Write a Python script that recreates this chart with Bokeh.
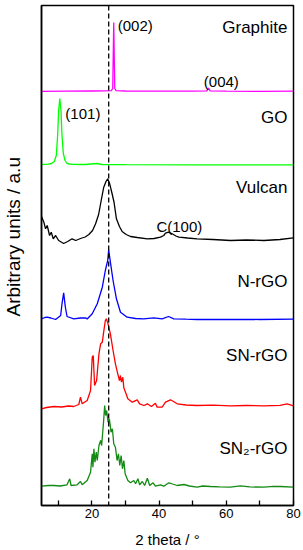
import math
from bokeh.plotting import figure
from bokeh.models import Range1d, FixedTicker, Span, Label, Title
from bokeh.embed import file_html
from bokeh.resources import INLINE

# ---------------- data (2 theta, stacked arbitrary intensity) ----------------
graphite_x = [5, 12, 20, 24, 25.8, 26.2, 26.5, 26.8, 27.2, 30, 40, 50, 54.2, 54.7, 55.2, 60, 70, 80]
graphite_y = [414.2, 414.4, 414.5, 414.6, 414.8, 417, 483, 417, 414.8, 414.5, 414.3, 414.4, 414.6, 417.5, 414.6, 414.3, 414.2, 414.3]

go_x = [5, 7.0, 8.0, 8.8, 9.4, 9.8, 10.1, 10.45, 10.8, 11.1, 11.5, 12.0, 12.6, 14, 18, 21.5, 23, 30, 50, 80]
go_y = [341, 341.3, 342, 344, 350, 370, 395, 407, 395, 370, 352, 345, 342, 341.2, 341, 342, 341, 340.8, 340.7, 340.7]

vulcan_x = [5.0, 5.7, 6.2, 6.7, 7.4, 7.9, 8.5, 9.2, 10.1, 11.6, 12.8, 14.1, 15.2, 16.6, 18.0, 19.1, 20.2, 21.1, 22.0,
            22.6, 23.5, 24.2, 24.7, 25.3, 26.0, 26.6, 27.3, 28.2, 29.0, 30.2, 31.5, 33.5, 36.5, 38.5, 40.4, 41.4, 41.9,
            42.8, 43.9, 45.0, 45.9, 48.5, 51.3, 56, 61.3, 66, 71.2, 76, 80]
vulcan_y = [289, 283.3, 276.7, 280, 270, 273.3, 266.7, 270, 265, 262, 264, 266.7, 265, 267, 268.5, 271, 275, 281.7, 291,
            302, 318, 324, 326.7, 321.7, 312, 303, 286.7, 279, 274, 271, 269, 268, 266.7, 267, 268.3, 270, 272.3,
            273.3, 271.7, 269.5, 268.3, 267.5, 266.7, 266, 265, 265.5, 265, 266, 267.7]

nrgo_x = [5.0, 6.0, 6.7, 7.8, 9.2, 10.7, 11.1, 11.6, 12.1, 12.6, 14.6, 16.5, 18.1, 18.6, 20.1, 21.6, 23.1, 24.0, 24.7, 25.0,
          25.5, 26.3, 27.3, 28.5, 30.5, 33, 35.4, 38.4, 40.9, 42.8, 44.4, 48, 51.3, 60, 70, 80]
nrgo_y = [186.7, 188, 188.3, 187.5, 186, 190, 201.7, 212.7, 198.3, 189, 186.7, 187.5, 187.7, 186.5, 191.7, 201.7, 218.3, 235, 245, 255.7,
          243.3, 225, 206.7, 193.3, 188.3, 187, 186.7, 187.7, 186.7, 189, 186.7, 186.3, 186, 186.2, 186, 186.3]

snrgo_x = [5.0, 6.5, 8.7, 11.0, 13.0, 14.6, 16.1, 16.6, 17.1, 18.6, 19.6, 20.1, 20.4, 20.8, 21.4, 22.1, 22.6, 23.1, 23.5,
           24.0, 24.3, 24.8, 25.5, 26.3, 27.0, 27.7, 28.2, 28.5, 28.8, 29.2, 29.5, 30.0, 30.7, 32.0, 33.5, 34.2, 35.5,
           36.5, 37.7, 38.9, 39.4, 40.9, 41.9, 43.4, 45.4, 48, 51.3, 56, 61.2, 66, 71.1, 76, 78.1, 80]
snrgo_y = [96.7, 98, 99, 98.5, 99.5, 99, 101, 108.3, 101.7, 105, 115, 148.3, 150, 120, 125, 151.7, 161.7, 163.3, 173.3,
           185, 186.7, 181.7, 171.7, 155, 141.7, 131.7, 125, 130, 123.3, 128.3, 117.7, 113.3, 106.7, 103.3, 105.7, 101.7, 100,
           101.7, 99, 102.3, 98.3, 98.3, 103.3, 105.7, 101.7, 100.5, 100, 100.3, 99.7, 100, 99.7, 100.2, 101.7, 99.7]

sn2rgo_x = [5.0, 7.0, 8.7, 10.5, 12.6, 13.4, 13.8, 15.6, 16.6, 17.1, 18.6, 19.6, 20.1, 20.3, 20.6, 20.9, 21.3, 21.6, 22.1,
            22.6, 22.9, 23.3, 23.5, 23.8, 24.1, 24.4, 24.8, 25.2, 25.7, 26.1, 26.5, 27.0, 27.5, 27.9, 28.3, 28.7, 29.1,
            29.5, 29.9, 30.7, 31.5, 32.5, 33.0, 33.7, 34.2, 35.0, 35.7, 36.5, 37.2, 38.2, 38.9, 40.4, 41.4, 42.9, 44.0,
            45.4, 47.4, 49, 51.3, 53, 55.3, 58, 61.2, 64.2, 67, 71.2, 74, 76.1, 80]
sn2rgo_y = [19.3, 20, 20, 19.5, 20.7, 26.7, 20, 20.7, 24, 20.7, 25, 33.3, 51.7, 38.3, 56.7, 43.3, 53.3, 45, 60,
            65, 60, 76.7, 85, 100, 90, 95, 83.3, 86.7, 73.3, 76.7, 61.7, 58.3, 45, 51.7, 40, 50, 36.7,
            45, 31.7, 25, 22.7, 25, 21.7, 26.7, 20.7, 24, 20, 27.3, 20, 22.7, 19.3, 20.7, 19.3, 22.7, 21.5,
            20, 21, 19.5, 18.3, 19.5, 19, 18.6, 18.3, 19.7, 18.6, 18.3, 19.2, 19, 18.3]

series = [
    (graphite_x, graphite_y, "#ff00ff"),
    (go_x, go_y, "#00ff00"),
    (vulcan_x, vulcan_y, "#000000"),
    (nrgo_x, nrgo_y, "#0000ff"),
    (snrgo_x, snrgo_y, "#ff0000"),
    (sn2rgo_x, sn2rgo_y, "#138a13"),
]

sample_names = ["Graphite", "GO", "Vulcan", "N-rGO", "SN-rGO", "SN\u2082-rGO"]
sample_name_y = [478, 388, 318, 224, 150, 57]

peak_labels = ["(002)", "(004)", "(101)", "C(100)"]
peak_label_x = [27.7, 53.3, 12.1, 39.2]
peak_label_y = [480, 424, 392, 279]

x_ticks = [20, 40, 60, 80]
x_minor_ticks = [10, 30, 50, 70]
ref_line_x = 25

FONT = "Liberation Sans"

p = figure(width=303, height=550, x_range=Range1d(5, 80), y_range=Range1d(0, 500),
           output_backend="svg", toolbar_location=None,
           min_border_left=41, min_border_right=10, min_border_top=5, min_border_bottom=45)
p.grid.visible = False
p.background_fill_color = "white"
p.border_fill_color = "white"
p.outline_line_color = "black"
p.outline_line_width = 1.5

xa = p.xaxis[0]
xa.ticker = FixedTicker(ticks=x_ticks, minor_ticks=x_minor_ticks)
xa.major_tick_in = 5
xa.major_tick_out = 0
xa.minor_tick_in = 5
xa.minor_tick_out = 0
xa.axis_line_width = 1.5
xa.major_tick_line_width = 1.3
xa.minor_tick_line_width = 1.3
xa.major_label_text_font = FONT
xa.major_label_text_font_size = "13px"
xa.major_label_text_color = "black"
xa.major_label_standoff = 3
xa.axis_label = "2 theta / \u00b0"
xa.axis_label_text_font = FONT
xa.axis_label_text_font_size = "15px"
xa.axis_label_text_font_style = "normal"
xa.axis_label_text_color = "black"
xa.axis_label_standoff = 10

ya = p.yaxis[0]
ya.ticker = FixedTicker(ticks=[])
ya.major_tick_line_color = None
ya.minor_tick_line_color = None
ya.major_label_text_font_size = "0px"
ya.axis_line_width = 1.5
# invisible spacer label so the title sits further from the frame
ya.axis_label = " "
ya.axis_label_text_font_size = "10px"
ya.axis_label_standoff = 4

p.add_layout(Title(text="Arbitrary units / a.u", align="left", offset=189, standoff=0,
                   vertical_align="bottom",
                   text_font=FONT, text_font_size="19px", text_font_style="normal",
                   text_color="black"), "left")

for xs, ys, col in series:
    p.line(xs, ys, line_color=col, line_width=1.3)

p.add_layout(Span(location=ref_line_x, dimension="height", line_color="black",
                  line_dash="5 3", line_width=1.3))

for name, yy in zip(sample_names, sample_name_y):
    p.add_layout(Label(x=78.2, y=yy, text=name, text_align="right", text_baseline="alphabetic",
                       text_font=FONT, text_font_size="17px", text_color="black"))

for t, xx, yy in zip(peak_labels, peak_label_x, peak_label_y):
    p.add_layout(Label(x=xx, y=yy, text=t, text_align="left", text_baseline="alphabetic",
                       text_font=FONT, text_font_size="15px", text_color="black"))

open("out.html", "w").write(file_html(p, INLINE))
